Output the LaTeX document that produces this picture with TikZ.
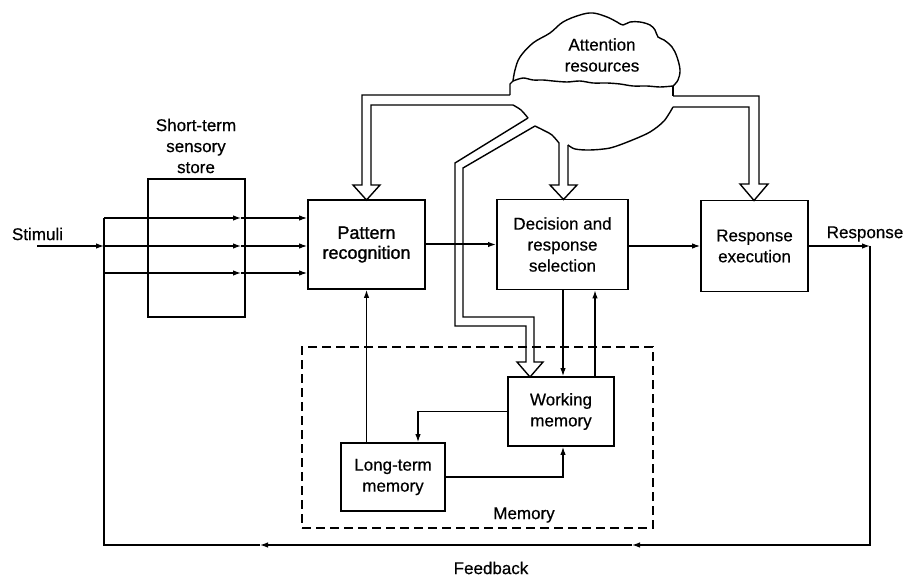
\documentclass[tikz,border=0pt]{standalone}
\usepackage{fontspec}
\setmainfont{Liberation Sans}[FakeBold=0.5]
\newfontfamily\heavyfont{Liberation Sans}[FakeBold=1.3]
\usetikzlibrary{arrows.meta,calc}
\begin{document}
\begin{tikzpicture}[x=1pt,y=-1pt,
  txt/.style={font=\fontsize{17}{21}\selectfont},
  box/.style={draw, line width=1.8pt, align=center, inner sep=0pt, txt},
  lbl/.style={align=center, inner sep=0pt, txt},
  conn/.style={line width=1.2pt, -{Latex[length=8pt,width=5.5pt]}},
  plain/.style={line width=1.2pt},
  broad/.style={line width=1.4pt, line join=miter},
  memframe/.style={draw, line width=1.4pt, dash pattern=on 9pt off 5pt}]
\useasboundingbox (0,0) rectangle (904,577);

% memory group frame
\node[memframe, minimum width=351pt, minimum height=181pt] (mem) at (477.5,437.5) {};
\node[lbl] (memlbl) at (524,515) {Memory};

% processing stages
\node[box, minimum width=97pt, minimum height=138pt] (store) at (196.5,248) {};
\node[lbl] (storelbl) at (196,146) {Short-term\\sensory\\store};
\node[box, minimum width=117pt, minimum height=89pt, font=\heavyfont\fontsize{18}{20}\selectfont] (pr) at (366.5,244.5) {Pattern\\recognition};
\node[box, minimum width=131pt, minimum height=90pt] (dec) at (562.5,244.5) {Decision and\\response\\selection};
\node[box, minimum width=107pt, minimum height=91pt] (rex) at (754.5,246) {Response\\execution};
\node[box, minimum width=106pt, minimum height=69pt] (wm) at (561,411.5) {Working\\memory};
\node[box, minimum width=104pt, minimum height=68pt] (ltm) at (393,477) {Long-term\\memory};

% free labels
\node[lbl] (stim) at (37.5,234) {Stimuli};
\node[lbl] (resp) at (865,234) {Response};
\node[lbl] (fb) at (491,568) {Feedback};

% input side
\coordinate (stimIn) at (37,246);
\coordinate (ja) at (104,218);
\coordinate (jb) at (104,246);
\coordinate (jc) at (104,273);
\coordinate (sa) at (241,218);
\coordinate (sb) at (241,246);
\coordinate (sc) at (241,273);
\draw[conn] (stimIn) -- (jb);
\draw[conn] (ja) -- (sa);
\draw[conn] (jb) -- (sb);
\draw[conn] (jc) -- (sc);
\draw[conn] (sa) -- (pr.west |- sa);
\draw[conn] (sb) -- (pr.west |- sb);
\draw[conn] (sc) -- (pr.west |- sc);

% main chain
\draw[conn, line width=2pt] (pr.east) -- (pr.east -| dec.west);
\draw[conn] (dec.east |- rex.west) -- (rex.west);
\coordinate (respOut) at (870,246);
\draw[conn] (rex.east) -- (respOut);

% feedback loop
\coordinate (fbA) at (632,545);
\coordinate (fbB) at (260,545);
\coordinate (fbC) at (104,545);
\draw[conn] (respOut) |- (fbA);
\draw[conn] (fbA) -- (fbB);
\draw[plain] (fbB) -- (fbC) -- (ja);

% memory links
\draw[conn] (ltm.north -| pr.south) -- (pr.south);
\draw[conn] (wm.west) -| ([xshift=25pt]ltm.north);
\draw[conn] (ltm.east) -| ([xshift=2pt]wm.south);
\draw[conn] ([xshift=0.5pt]dec.south) -- ([xshift=0.5pt]dec.south |- wm.north);
\draw[conn] ([xshift=34pt]wm.north) -- ([xshift=34pt]wm.north |- dec.south);

% attention cloud, upper part
\draw[broad] plot[smooth, tension=0.6] coordinates {(513,81) (515,70) (520,57) (533,43) (550,33) (563,22) (580,15) (593,13) (607,17) (617,22) (623,25) (630,22) (640,22) (650,25) (655,30) (658,37) (664,40) (672,47) (677,57) (680,70) (678,80) (673,86)};
\draw[broad] plot[smooth, tension=0.5] coordinates {(513,81) (523,78) (533,80) (543,80) (553,81) (567,82) (580,81) (593,83) (607,83) (620,84) (633,86) (647,86) (660,87) (673,86)};
\node[lbl] (att) at (602,55) {Attention\\resources};

% attention cloud, lower part
\draw[broad] (510,95) -- (510,84) -- (513,81);
\draw[broad] (673,96) -- (673,86);
\draw[broad] plot[smooth] coordinates {(513,105) (521,110) (528,118)};
\draw[broad] plot[smooth] coordinates {(535,126) (545,131) (552,135) (559,143)};
\draw[broad] plot[smooth] coordinates {(568,145) (575,149) (590,150) (610,148) (630,141) (650,132) (664,121) (673,107)};

% broad attention arrows
\draw[broad] (510,95) -- (362,95) -- (362,185) -- (353,185) -- (366.5,200) -- (380,185) -- (371,185) -- (371,105) -- (513,105);
\draw[broad] (559,143) -- (559,185) -- (550,185) -- (563.5,199.5) -- (577,185) -- (568,185) -- (568,145);
\draw[broad] (673,96) -- (759,96) -- (759,184) -- (768,184) -- (754,200.5) -- (740,184) -- (749,184) -- (749,107) -- (673,107);
\draw[broad] (528,118) -- (455,163) -- (455,326) -- (526,326) -- (526,362) -- (517,362) -- (530,377) -- (543,362) -- (534,362) -- (534,317) -- (463,317) -- (463,168) -- (535,126);
\end{tikzpicture}
\end{document}
